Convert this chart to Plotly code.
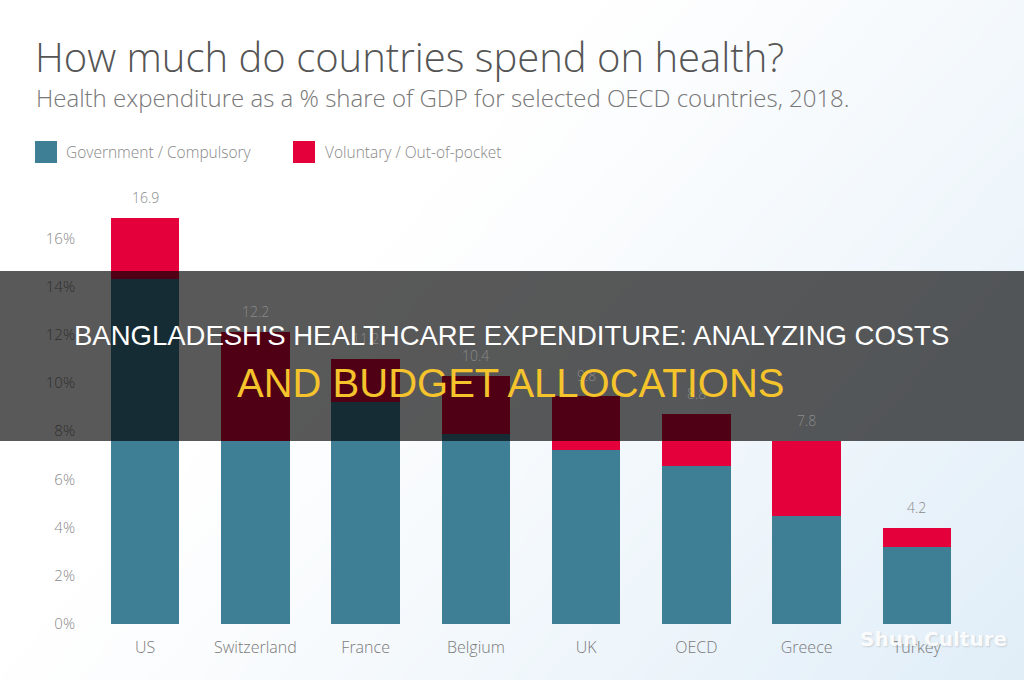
import base64, struct, zlib
import numpy as np
import plotly.graph_objects as go

# ---------------- data ----------------
countries = ["US", "Switzerland", "France", "Belgium", "UK", "OECD", "Greece", "Turkey"]
government = [14.3, 7.6, 9.2, 7.9, 7.2, 6.55, 4.5, 3.2]
voluntary = [2.55, 4.5, 1.8, 2.4, 2.25, 2.15, 3.1, 0.8]
total_labels = ["16.9", "12.2", "11.2", "10.4", "9.8", "8.8", "7.8", "4.2"]
y_ticks = [0, 2, 4, 6, 8, 10, 12, 14, 16]
y_tick_text = ["0%", "2%", "4%", "6%", "8%", "10%", "12%", "14%", "16%"]

W, H = 1024, 680
L, R, T, B = 90, 52, 202, 56
PW, PH = W - L - R, H - T - B


def px(x):
    return (x - L) / PW


def py(y):
    return (H - B - y) / PH


# ---------------- background gradient as PNG ----------------
def gradient_png(w, h):
    xs = np.linspace(0, 1, w)[None, :]
    ys = np.linspace(0, 1, h)[:, None]
    t = np.clip(0.75 * xs + 0.45 * ys - 0.45, 0, 1) ** 1.1
    white = np.array([255, 255, 255], float)
    blue = np.array([214, 232, 246], float)
    img = white[None, None, :] * (1 - t[..., None]) + blue[None, None, :] * t[..., None]
    img = img.astype(np.uint8)
    raw = b"".join(b"\x00" + img[r].tobytes() for r in range(h))

    def chunk(tag, data):
        c = struct.pack(">I", len(data)) + tag + data
        return c + struct.pack(">I", zlib.crc32(tag + data) & 0xffffffff)

    png = b"\x89PNG\r\n\x1a\n"
    png += chunk(b"IHDR", struct.pack(">IIBBBBB", w, h, 8, 2, 0, 0, 0))
    png += chunk(b"IDAT", zlib.compress(raw, 9))
    png += chunk(b"IEND", b"")
    return "data:image/png;base64," + base64.b64encode(png).decode()


TEAL = "#3e7f96"
RED = "#e4003a"
FONT = "Open Sans"

fig = go.Figure()
fig.add_trace(go.Bar(x=countries, y=government, name="Government / Compulsory",
                     marker=dict(color=TEAL, line=dict(width=0))))
fig.add_trace(go.Bar(x=countries, y=voluntary, name="Voluntary / Out-of-pocket",
                     marker=dict(color=RED, line=dict(width=0))))

annotations = []
for c, g, v, lab in zip(countries, government, voluntary, total_labels):
    annotations.append(dict(x=c, y=g + v, xref="x", yref="y", text=lab, showarrow=False,
                            yanchor="bottom", yshift=9,
                            font=dict(family=FONT, size=14, color="#8a8a8a", weight=300)))

# titles
annotations.append(dict(x=px(33), y=py(56), xref="paper", yref="paper", xanchor="left", yanchor="middle",
                        text="How much do countries spend on health?", showarrow=False,
                        font=dict(family=FONT, size=40, color="#555555", weight=300)))
annotations.append(dict(x=px(34), y=py(98), xref="paper", yref="paper", xanchor="left", yanchor="middle",
                        text="Health expenditure as a % share of GDP for selected OECD countries, 2018.",
                        showarrow=False, font=dict(family=FONT, size=24, color="#777777", weight=300)))
# legend text
annotations.append(dict(x=px(64), y=py(152), xref="paper", yref="paper", xanchor="left", yanchor="middle",
                        text="Government / Compulsory", showarrow=False,
                        font=dict(family=FONT, size=15.5, color="#888888", weight=300)))
annotations.append(dict(x=px(323), y=py(152), xref="paper", yref="paper", xanchor="left", yanchor="middle",
                        text="Voluntary / Out-of-pocket", showarrow=False,
                        font=dict(family=FONT, size=15.5, color="#888888", weight=300)))

# banner texts
annotations.append(dict(x=px(511), y=py(335), xref="paper", yref="paper",
                        xanchor="center", yanchor="middle",
                        text="BANGLADESH'S HEALTHCARE EXPENDITURE: ANALYZING COSTS", showarrow=False,
                        font=dict(family="Liberation Sans", size=27.5, color="#ffffff")))
annotations.append(dict(x=px(511), y=py(383), xref="paper", yref="paper",
                        xanchor="center", yanchor="middle",
                        text="AND BUDGET ALLOCATIONS", showarrow=False,
                        font=dict(family="Liberation Sans", size=40, color="#f5c42c", weight=500)))
# watermark
annotations.append(dict(x=px(933), y=py(639), xref="paper", yref="paper",
                        xanchor="center", yanchor="middle",
                        text="<b>Shun Culture</b>", showarrow=False,
                        font=dict(family="DejaVu Sans", size=20, color="rgba(255,255,255,0.92)",
                                  shadow="1px 1px 2px rgba(0,0,0,0.15)")))

shapes = [
    dict(type="rect", xref="paper", yref="paper", x0=px(35), x1=px(57), y0=py(163), y1=py(141),
         fillcolor=TEAL, line=dict(width=0)),
    dict(type="rect", xref="paper", yref="paper", x0=px(293), x1=px(315), y0=py(163), y1=py(141),
         fillcolor=RED, line=dict(width=0)),
    dict(type="rect", xref="paper", yref="paper", x0=px(0), x1=px(W), y0=py(441), y1=py(271),
         fillcolor="rgba(0,0,0,0.65)", line=dict(width=0), layer="above"),
]

fig.update_layout(
    width=W, height=H,
    margin=dict(l=L, r=R, t=T, b=B, pad=0),
    barmode="stack", bargap=0.38,
    showlegend=False,
    paper_bgcolor="white",
    plot_bgcolor="rgba(0,0,0,0)",
    font=dict(family=FONT),
    xaxis=dict(showgrid=False, showline=False, zeroline=False, ticks="",
               tickfont=dict(family=FONT, size=16, color="#7a7a7a", weight=300),
               ticklabelstandoff=12),
    yaxis=dict(range=[0, PH / 24.1], showgrid=False, showline=False, zeroline=False,
               tickvals=y_ticks, ticktext=y_tick_text, ticks="",
               tickfont=dict(family=FONT, size=15, color="#8a8a8a", weight=300),
               ticklabelstandoff=14),
    annotations=annotations,
    shapes=shapes,
    images=[dict(source=gradient_png(256, 170), xref="paper", yref="paper",
                 x=px(0), y=py(0), sizex=W / PW, sizey=H / PH,
                 xanchor="left", yanchor="top", sizing="stretch", layer="below")],
)

fig.write_html("out.html")
